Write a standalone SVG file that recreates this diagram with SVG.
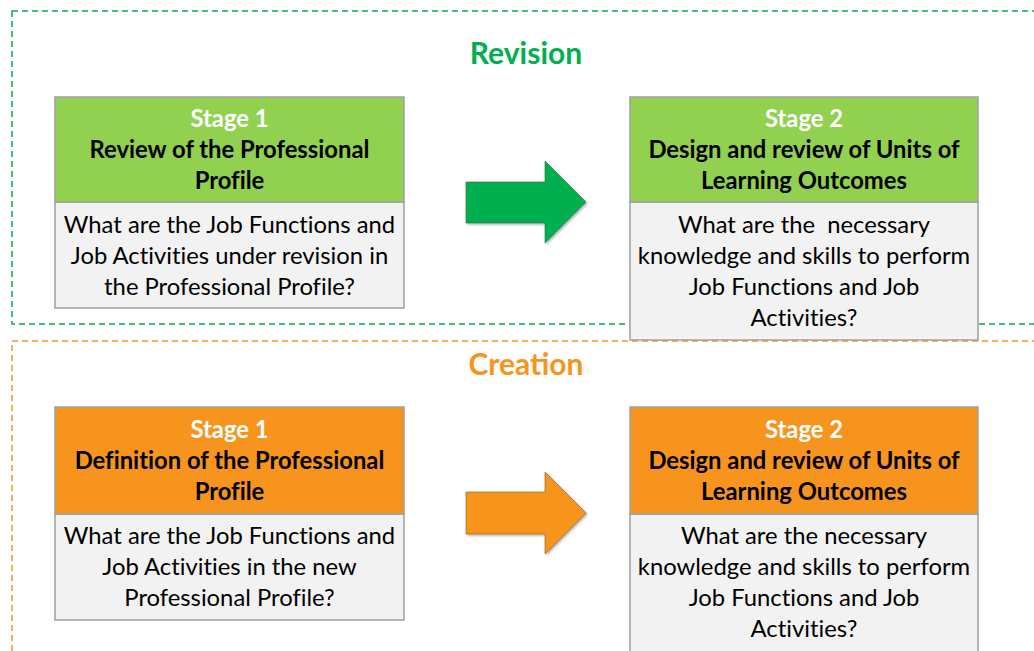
<svg xmlns="http://www.w3.org/2000/svg" width="1034" height="651" viewBox="0 0 1034 651">
<style>
.t{font-family:Lato,"Open Sans","Liberation Sans",sans-serif;text-anchor:middle;font-size:23.8px;font-variant-ligatures:none}
.b{font-weight:bold}
.w{fill:#FFFFFF}
.k{fill:#000000}
.hd{stroke:#A0A0A0;stroke-width:1.5}
.bd{fill:#F2F2F2;stroke:#A0A0A0;stroke-width:1.5}
.sec{font-family:Lato,"Open Sans","Liberation Sans",sans-serif;text-anchor:middle;font-size:30px;font-weight:bold}
</style>
<defs>
<filter id="sh" x="-10%" y="-10%" width="130%" height="130%">
<feDropShadow dx="1.5" dy="1.5" stdDeviation="1" flood-color="#000" flood-opacity="0.3"/>
</filter>
</defs>
<rect id="revision-frame" x="12" y="11" width="1040" height="313" fill="none" stroke="#00B050" stroke-width="1.5" stroke-dasharray="6,4"/>
<rect id="creation-frame" x="12" y="341" width="1040" height="330" fill="none" stroke="#F7941D" stroke-width="1.5" stroke-dasharray="6,4"/>
<text class="sec" x="526" y="64" fill="#00B050">Revision</text>
<text class="sec" x="526" y="375" fill="#F7941D">Creation</text>
<g id="rev-stage1">
<rect x="55" y="202" width="349" height="106" class="bd"/>
<rect x="55" y="97" width="349" height="105" fill="#92D050" class="hd"/>
<text class="t b w" x="229.5" y="127">Stage 1</text>
<text class="t b k" x="229.5" y="158">Review of the Professional</text>
<text class="t b k" x="229.5" y="189">Profile</text>
<text class="t k" x="229.5" y="233">What are the Job Functions and</text>
<text class="t k" x="229.5" y="264">Job Activities under revision in</text>
<text class="t k" x="229.5" y="295">the Professional Profile?</text>
</g>
<g id="rev-stage2">
<rect x="630" y="202" width="348" height="138" class="bd"/>
<rect x="630" y="97" width="348" height="105" fill="#92D050" class="hd"/>
<text class="t b w" x="804" y="127">Stage 2</text>
<text class="t b k" x="804" y="158">Design and review of Units of</text>
<text class="t b k" x="804" y="189">Learning Outcomes</text>
<text class="t k" x="804" y="233" xml:space="preserve">What are the  necessary</text>
<text class="t k" x="804" y="264">knowledge and skills to perform</text>
<text class="t k" x="804" y="295">Job Functions and Job</text>
<text class="t k" x="804" y="326">Activities?</text>
</g>
<g id="cre-stage1">
<rect x="55" y="514" width="349" height="106" class="bd"/>
<rect x="55" y="407" width="349" height="107" fill="#F7941D" class="hd"/>
<text class="t b w" x="229.5" y="438">Stage 1</text>
<text class="t b k" x="229.5" y="469">Definition of the Professional</text>
<text class="t b k" x="229.5" y="500">Profile</text>
<text class="t k" x="229.5" y="544">What are the Job Functions and</text>
<text class="t k" x="229.5" y="575">Job Activities in the new</text>
<text class="t k" x="229.5" y="606">Professional Profile?</text>
</g>
<g id="cre-stage2">
<rect x="630" y="514" width="348" height="138" class="bd"/>
<rect x="630" y="407" width="348" height="107" fill="#F7941D" class="hd"/>
<text class="t b w" x="804" y="438">Stage 2</text>
<text class="t b k" x="804" y="469">Design and review of Units of</text>
<text class="t b k" x="804" y="500">Learning Outcomes</text>
<text class="t k" x="804" y="544">What are the necessary</text>
<text class="t k" x="804" y="575">knowledge and skills to perform</text>
<text class="t k" x="804" y="606">Job Functions and Job</text>
<text class="t k" x="804" y="637">Activities?</text>
</g>
<g id="connectors">
<polygon points="466,182 545,182 545,161 586,202 545,243 545,223 466,223" fill="#00B050" stroke="#3A6B3A" stroke-width="0.6" filter="url(#sh)"/>
<polygon points="466,492 545,492 545,472 586,513 545,554 545,534 466,534" fill="#F7941D" stroke="#8A5A20" stroke-width="0.6" filter="url(#sh)"/>
</g>
</svg>
